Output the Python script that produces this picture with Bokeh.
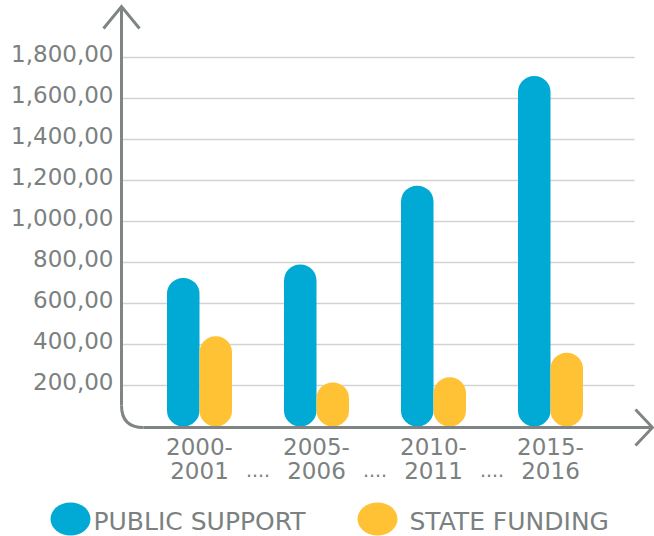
from bokeh.plotting import figure
from bokeh.models import Range1d
from bokeh.core.properties import value
from bokeh.embed import file_html
from bokeh.resources import INLINE

# ---- data ----
period_line1 = ["2000-", "2005-", "2010-", "2015-"]
period_line2 = ["2001", "2006", "2011", "2016"]
public_support = [725, 790, 1175, 1710]
state_funding = [440, 215, 240, 360]
y_ticks = [200, 400, 600, 800, 1000, 1200, 1400, 1600, 1800]
y_tick_labels = ["200,00", "400,00", "600,00", "800,00", "1,000,00",
                 "1,200,00", "1,400,00", "1,600,00", "1,800,00"]
series_names = ["PUBLIC SUPPORT", "STATE FUNDING"]

# ---- style ----
BLUE = "#00aad4"
YELLOW = "#fec234"
AXIS = "#7f8584"
TEXT = "#7b8180"
GRID = "#d2d2d2"
FONT = value("DejaVu Sans")

W, H = 654, 536
X0_PAGE, GROUP_PX = 199.0, 117.0   # layout: first group centre, group spacing (px)
ZERO_PAGE, Y_PX = 426.0, 0.205      # layout: baseline position, px per unit
TXT_SHIFT = 8.5                     # svg text renders lower than requested


def dx(px):
    return (px - X0_PAGE) / GROUP_PX


def dy(py):
    return (ZERO_PAGE - py) / Y_PX


def ty(py):
    return dy(py - TXT_SHIFT)


p = figure(width=W, height=H, output_backend="svg", toolbar_location=None,
           x_range=Range1d(dx(0), dx(W)), y_range=Range1d(dy(H), dy(0)),
           x_axis_type=None, y_axis_type=None, min_border=0,
           outline_line_color=None, background_fill_color="white",
           border_fill_color="white")

groups = list(range(len(public_support)))
bar_w = 32.5 / GROUP_PX
off = bar_w / 2

# grid lines
gx0, gx1 = dx(122), dx(634)
p.segment(x0=[gx0] * len(y_ticks), y0=y_ticks, x1=[gx1] * len(y_ticks), y1=y_ticks,
          line_color=GRID, line_width=1.6)

# tick labels
p.text(x=[dx(113)] * len(y_ticks), y=[t - (4.5 - TXT_SHIFT) / Y_PX for t in y_ticks],
       text=y_tick_labels, text_font=FONT, text_font_size="23px", text_color=TEXT,
       text_align="right", text_baseline="alphabetic")

# bars
p.vbar(x=[g - off for g in groups], top=public_support, bottom=0, width=bar_w,
       fill_color=BLUE, line_color=None, border_radius=16)
p.vbar(x=[g + off for g in groups], top=state_funding, bottom=0, width=bar_w,
       fill_color=YELLOW, line_color=None, border_radius=16)

# axes (decoration)
ax_x = dx(121)
ax_y = dy(427)
p.line(x=[ax_x, ax_x], y=[dy(6), dy(405)], line_color=AXIS, line_width=3)
p.quadratic(x0=[ax_x], y0=[dy(405)], x1=[dx(143)], y1=[ax_y], cx=[ax_x], cy=[ax_y],
            line_color=AXIS, line_width=3)
p.line(x=[dx(143), dx(652)], y=[ax_y, ax_y], line_color=AXIS, line_width=3)
p.line(x=[dx(103), ax_x, dx(139)], y=[dy(28), dy(6), dy(28)], line_color=AXIS,
       line_width=3, line_join="miter")
p.line(x=[dx(635), dx(652), dx(635)], y=[dy(409), ax_y, dy(445)], line_color=AXIS,
       line_width=3, line_join="miter")

# category labels
p.text(x=groups, y=[ty(454)] * len(groups), text=period_line1, text_font=FONT,
       text_font_size="23px", text_color=TEXT, text_align="center",
       text_baseline="alphabetic")
p.text(x=groups, y=[ty(478)] * len(groups), text=period_line2, text_font=FONT,
       text_font_size="23px", text_color=TEXT, text_align="center",
       text_baseline="alphabetic")
p.text(x=[g + 0.5 for g in groups[:-1]], y=[ty(478)] * (len(groups) - 1),
       text=["...."] * (len(groups) - 1), text_font=FONT, text_font_size="19px",
       text_color=TEXT, text_align="center", text_baseline="alphabetic")

# legend
p.ellipse(x=[dx(70), dx(377)], y=[dy(518.5)] * 2, width=40, height=33,
          width_units="screen", height_units="screen",
          fill_color=[BLUE, YELLOW], line_color=None)
p.text(x=[dx(93), dx(409)], y=[ty(529)] * 2, text=series_names, text_font=FONT,
       text_font_size="25px", text_color=TEXT, text_align="left",
       text_baseline="alphabetic")

open("out.html", "w").write(file_html(p, INLINE))
